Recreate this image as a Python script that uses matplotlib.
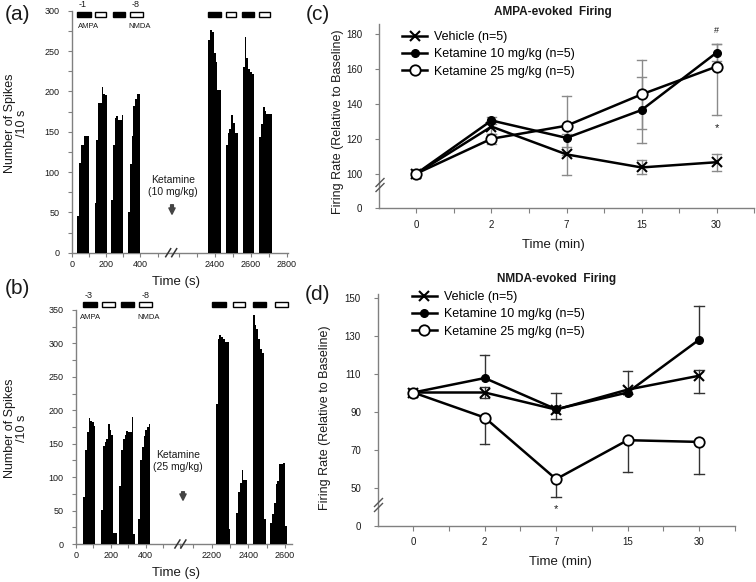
import matplotlib
matplotlib.use("Agg")
import matplotlib.pyplot as plt
from matplotlib.lines import Line2D
from matplotlib.patches import Rectangle, FancyArrowPatch
from matplotlib.ticker import MultipleLocator, FixedLocator

plt.rcParams['font.family'] = ['Liberation Sans', 'DejaVu Sans']

# ------------------------------------------------------------------ data
bin_s = 10  # spikes counted per 10 s bin

# panel (a): ketamine 10 mg/kg, group start times (s) and spike counts per bin
a_left_starts = [30, 133, 230, 329]
a_left_counts = [[45, 111, 134, 134, 145, 145, 145],
                 [61, 140, 186, 186, 205, 197, 195],
                 [65, 133, 167, 169, 164, 164, 171],
                 [50, 110, 145, 182, 190, 197, 197]]
a_right_starts = [2363, 2460, 2555, 2647]
a_right_counts = [[264, 276, 273, 247, 236, 202, 202],
                  [134, 148, 153, 171, 161, 149, 149],
                  [230, 268, 241, 228, 224, 222],
                  [143, 160, 180, 176, 172, 172, 172]]

# panel (b): ketamine 25 mg/kg
b_left_starts = [42, 144, 249, 358]
b_left_counts = [[71, 141, 167, 188, 184, 182, 176],
                 [51, 147, 152, 157, 180, 171, 163, 16, 16],
                 [86, 141, 157, 163, 169, 168, 168, 190, 15],
                 [37, 126, 145, 162, 170, 175, 180]]
b_right_starts = [2222, 2333, 2424, 2519]
b_right_counts = [[209, 307, 312, 309, 306, 302, 302, 22],
                  [46, 77, 91, 111, 96, 96],
                  [342, 328, 321, 306, 292, 285, 37],
                  [32, 45, 62, 90, 94, 119, 120, 121, 27]]

# drug application periods (start s, end s, AMPA=black / NMDA=white)
a_left_periods = [(27, 109, 'AMPA'), (135, 199, 'NMDA'), (238, 310, 'AMPA'), (339, 413, 'NMDA')]
a_right_periods = [(2363, 2434, 'AMPA'), (2460, 2517, 'NMDA'), (2549, 2618, 'AMPA'), (2646, 2707, 'NMDA')]
b_left_periods = [(38, 119, 'AMPA'), (148, 224, 'NMDA'), (257, 333, 'AMPA'), (364, 438, 'NMDA')]
b_right_periods = [(2203, 2276, 'AMPA'), (2316, 2382, 'NMDA'), (2426, 2497, 'AMPA'), (2546, 2617, 'NMDA')]

# panels (c), (d): firing rate relative to baseline
time_labels = ['0', '2', '7', '15', '30']
series_names = ['Vehicle (n=5)', 'Ketamine 10 mg/kg (n=5)', 'Ketamine 25 mg/kg (n=5)']

c_vehicle = [100, 127, 111, 103.5, 106.5]
c_k10 = [100, 130.5, 120.5, 136.5, 169.5]
c_k25 = [100, 120, 127.5, 145.5, 161.5]
c_vehicle_lo = [0, 4, 12, 4, 5]
c_vehicle_hi = [0, 4, 12, 4, 5]
c_k10_lo = [0, 2, 5, 19, 5]
c_k10_hi = [0, 2, 5, 19, 5]
c_k25_lo = [0, 3, 17, 20, 28]
c_k25_hi = [0, 3, 17, 20, 13]

d_vehicle = [100, 100, 91, 101.5, 108.8]
d_k10 = [100, 107.6, 91.2, 100, 127.7]
d_k25 = [100, 86.8, 54.4, 74.9, 74]
d_vehicle_lo = [0, 3, 5, 2, 9]
d_vehicle_hi = [0, 3, 9, 10, 3]
d_k10_lo = [0, 0, 0, 0, 0]
d_k10_hi = [0, 12, 0, 0, 18]
d_k25_lo = [0, 14, 9.3, 16.6, 17]
d_k25_hi = [0, 0, 0, 0, 0]

# ------------------------------------------------------------------ figure
W, H = 756, 582
fig = plt.figure(figsize=(W / 100, H / 100), dpi=100)
AXC = '#808080'
TXT = '#1a1a1a'


def axes_px(x0, y0, x1, y1):
    return fig.add_axes([x0 / W, 1 - y1 / H, (x1 - x0) / W, (y1 - y0) / H])


def fig_line(xs, ys, **kw):
    fig.add_artist(Line2D([x / W for x in xs], [1 - y / H for y in ys],
                          transform=fig.transFigure, **kw))


def fig_text(x, y, s, **kw):
    kw.setdefault('color', TXT)
    fig.text(x / W, 1 - y / H, s, **kw)


def style(ax, labelsize):
    for s in ['top', 'right']:
        ax.spines[s].set_visible(False)
    for s in ['left', 'bottom']:
        ax.spines[s].set_color(AXC)
        ax.spines[s].set_linewidth(1.0)
    ax.tick_params(which='both', color=AXC, labelcolor=TXT, labelsize=labelsize,
                   direction='out', width=0.8, length=3)
    ax.patch.set_alpha(0)


def spike_panel(box, lxlim, rxlim, ymax, lstarts, lcounts, rstarts, rcounts,
                lperiods, rperiods, rticks, period_y):
    x0, xb, x1, ytop, ybot = box
    axL = axes_px(x0, ytop, xb, ybot)
    axR = axes_px(xb, ytop, x1, ybot)
    for ax in (axL, axR):
        style(ax, 6.5)
        ax.set_ylim(0, ymax)
        ax.xaxis.set_minor_locator(MultipleLocator(100))
        ax.tick_params(axis='x', which='both', pad=2)
    axL.set_xlim(*lxlim)
    axR.set_xlim(*rxlim)
    axL.xaxis.set_major_locator(FixedLocator([0, 200, 400]))
    axR.xaxis.set_major_locator(FixedLocator(rticks))
    axL.yaxis.set_major_locator(MultipleLocator(50))
    axL.yaxis.set_minor_locator(MultipleLocator(25))
    axL.tick_params(axis='y', which='both', pad=6)
    axR.spines['left'].set_visible(False)
    axR.tick_params(axis='y', which='both', left=False, labelleft=False)
    for ax, starts, counts, periods in ((axL, lstarts, lcounts, lperiods),
                                         (axR, rstarts, rcounts, rperiods)):
        for st, cnt in zip(starts, counts):
            ax.bar([st + bin_s * k for k in range(len(cnt))], cnt, width=bin_s,
                   align='edge', color='black', linewidth=0, zorder=3)
        for t0, t1, drug in periods:
            ax.add_patch(Rectangle((t0, period_y[0]), t1 - t0, period_y[1] - period_y[0],
                                   facecolor='black' if drug == 'AMPA' else 'white',
                                   edgecolor='black', linewidth=1.0, clip_on=False, zorder=4))
    # break marks on the time axis
    for dx in (-3, 3):
        fig_line([xb + dx - 2.5, xb + dx + 2.5], [ybot + 4, ybot - 4], color='#333333', lw=1.1)
    return axL, axR


# ---- (a)
aL, aR = spike_panel((72, 171.2, 288.4, 10.7, 252.7), (0, 580), (2155, 2810), 300,
                     a_left_starts, a_left_counts, a_right_starts, a_right_counts,
                     a_left_periods, a_right_periods, [2400, 2600, 2800], (291.7, 298.6))
# ---- (b)
bL, bR = spike_panel((76, 180.4, 291.7, 309.9, 544), (0, 600), (2029, 2637), 350,
                     b_left_starts, b_left_counts, b_right_starts, b_right_counts,
                     b_left_periods, b_right_periods, [2200, 2400, 2600], (354.7, 362.2))

fig_text(5, 14, '(a)', fontsize=15, ha='left', va='center')
fig_text(5, 289, '(b)', fontsize=15, ha='left', va='center')
fig_text(83, 4.5, '-1', fontsize=6.5, ha='center', va='center')
fig_text(136, 4.5, '-8', fontsize=6.5, ha='center', va='center')
fig_text(78, 27, 'AMPA', fontsize=5.5, ha='left', va='center')
fig_text(128, 27, 'NMDA', fontsize=5.5, ha='left', va='center')
fig_text(89, 296, '-3', fontsize=6.5, ha='center', va='center')
fig_text(146, 296, '-8', fontsize=6.5, ha='center', va='center')
fig_text(80, 318, 'AMPA', fontsize=5.5, ha='left', va='center')
fig_text(137, 318, 'NMDA', fontsize=5.5, ha='left', va='center')

fig_text(16, 123, 'Number of Spikes\n/10 s', fontsize=9, rotation=90, ha='center', va='center',
         linespacing=1.1)
fig_text(16, 428, 'Number of Spikes\n/10 s', fontsize=9, rotation=90, ha='center', va='center',
         linespacing=1.1)
fig_text(176, 282, 'Time (s)', fontsize=9.5, ha='center', va='center')
fig_text(176, 573, 'Time (s)', fontsize=9.5, ha='center', va='center')

fig_text(173, 186, 'Ketamine\n(10 mg/kg)', fontsize=7.5, ha='center', va='center', linespacing=1.2)
fig_text(178, 461, 'Ketamine\n(25 mg/kg)', fontsize=7.5, ha='center', va='center', linespacing=1.2)
for x, y0, y1 in ((172, 202, 217), (183, 489, 503)):
    fig.add_artist(FancyArrowPatch(
        (x / W, 1 - y0 / H), (x / W, 1 - y1 / H), transform=fig.transFigure,
        arrowstyle='simple,head_width=0.45,head_length=0.45,tail_width=0.2',
        mutation_scale=10, color='#444444'))


# ---- (c), (d)
def err_segments(ax, xs, ys, lo, hi, color):
    for xi, yi, l, h in zip(xs, ys, lo, hi):
        for sgn, e in ((-1, l), (1, h)):
            if e > 0:
                yend = yi + sgn * e
                ax.plot([xi, xi], [yi, yend], color=color, lw=1.0, zorder=1)
                ax.plot([xi - 0.065, xi + 0.065], [yend, yend], color=color, lw=1.0, zorder=1)


def rate_panel(box, ylim, yticks, yticklabels, data, errs, ecolor):
    x0, y0, x1, y1 = box
    ax = axes_px(x0, y0, x1, y1)
    style(ax, 7)
    ax.set_xlim(-0.5, 4.5)
    ax.set_ylim(*ylim)
    xs = list(range(len(time_labels)))
    ax.set_xticks(xs)
    ax.set_xticklabels(time_labels)
    ax.xaxis.set_minor_locator(FixedLocator([0.5, 1.5, 2.5, 3.5, 4.5]))
    ax.set_yticks(yticks)
    ax.set_yticklabels(yticklabels)
    ax.tick_params(axis='x', which='both', length=3.5, pad=5)
    ax.tick_params(axis='y', which='both', length=3, pad=9)
    for vals, (lo, hi) in zip(data, errs):
        err_segments(ax, xs, vals, lo, hi, ecolor)
    styles = [dict(marker='x', ms=6.5, mew=1.5, mfc='black'),
              dict(marker='o', ms=5.5, mew=1.0, mfc='black'),
              dict(marker='o', ms=7.5, mew=1.3, mfc='white')]
    handles = []
    for vals, st, name in zip(data, styles, series_names):
        h, = ax.plot(xs, vals, color='black', lw=1.8, mec='black', zorder=3, label=name,
                     clip_on=False, **st)
        handles.append(h)
    return ax, handles


axc, hc = rate_panel((379, 24, 754, 208.3), (80, 186), [80, 100, 120, 140, 160, 180],
                     ['0', '100', '120', '140', '160', '180'],
                     [c_vehicle, c_k10, c_k25],
                     [(c_vehicle_lo, c_vehicle_hi), (c_k10_lo, c_k10_hi), (c_k25_lo, c_k25_hi)],
                     '#8a8a8a')
axc.text(4, 182, '#', fontsize=6.5, ha='center', va='center', color=TXT)
axc.text(4, 126, '*', fontsize=8, ha='center', va='center', color=TXT)

axd, hd = rate_panel((377.6, 293.7, 734.6, 525.5), (30, 152), [30, 50, 70, 90, 110, 130, 150],
                     ['0', '50', '70', '90', '110', '130', '150'],
                     [d_vehicle, d_k10, d_k25],
                     [(d_vehicle_lo, d_vehicle_hi), (d_k10_lo, d_k10_hi), (d_k25_lo, d_k25_hi)],
                     '#333333')
axd.text(2, 38.5, '*', fontsize=8, ha='center', va='center', color=TXT)

for ax, hs, (lx, ly) in ((axc, hc, (402, 31)), (axd, hd, (411.7, 291))):
    ax.legend(handles=hs, loc='upper left', bbox_to_anchor=(lx / W, 1 - ly / H),
              bbox_transform=fig.transFigure, frameon=False, fontsize=9,
              handlelength=2.0, handletextpad=0.55, labelspacing=0.42,
              borderpad=0, borderaxespad=0, numpoints=1)

# y-axis break marks
for x, yb in ((380, 185), (378.5, 505)):
    for dy in (-2.5, 2.5):
        fig_line([x - 4, x + 4], [yb + dy + 4, yb + dy - 4], color='#555555', lw=1.0)

fig_text(553, 12.5, 'AMPA-evoked  Firing', fontsize=8.5, fontweight='bold', ha='center', va='center')
fig_text(557, 278.5, 'NMDA-evoked  Firing', fontsize=8.5, fontweight='bold', ha='center', va='center')
fig_text(318, 14, '(c)', fontsize=15, ha='center', va='center')
fig_text(318, 294, '(d)', fontsize=15, ha='center', va='center')
fig_text(338, 122, 'Firing Rate (Relative to Baseline)', fontsize=9, rotation=90,
         ha='center', va='center')
fig_text(325, 418, 'Firing Rate (Relative to Baseline)', fontsize=9, rotation=90,
         ha='center', va='center')
fig_text(553, 245, 'Time (min)', fontsize=9.5, ha='center', va='center')
fig_text(560, 562, 'Time (min)', fontsize=9.5, ha='center', va='center')

fig.savefig('out.png', dpi=100)
